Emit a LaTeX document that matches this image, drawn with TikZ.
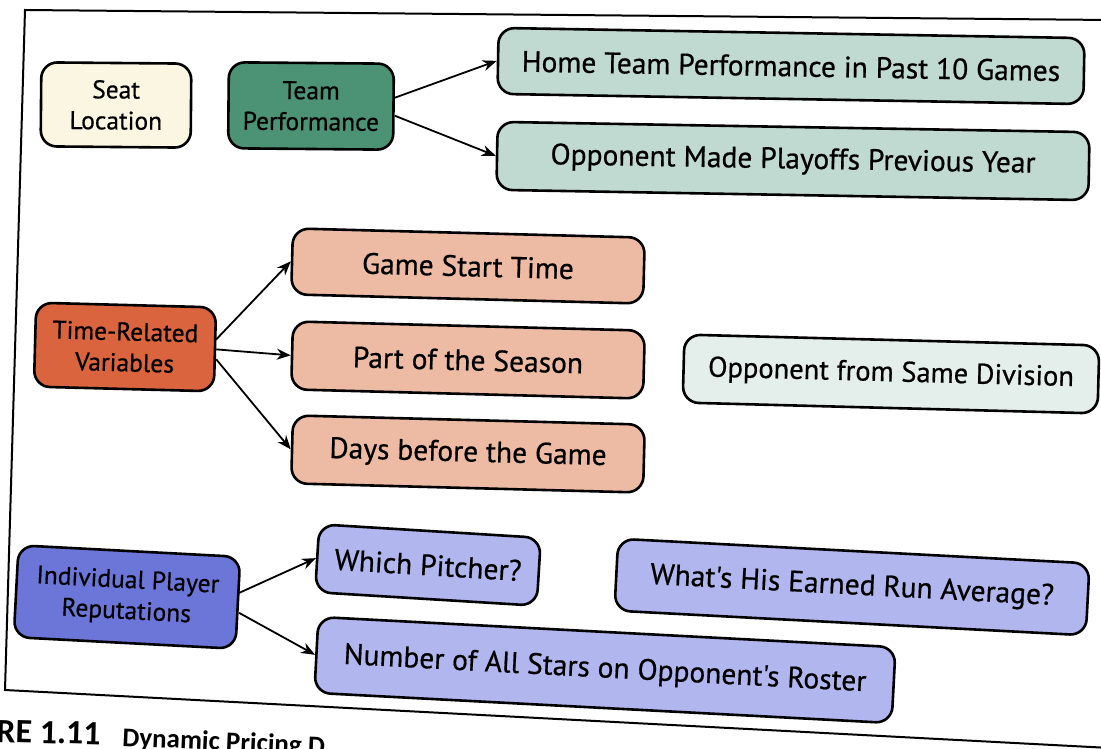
\documentclass[tikz,border=0pt]{standalone}
\usepackage{fontspec}
\setmainfont{PT Sans}
\newfontfamily\boxfont{PT Sans}[FakeBold=0.6]
\newfontfamily\capfont{Carlito}
\usetikzlibrary{arrows.meta}
\definecolor{seatc}{HTML}{FAF6E2}
\definecolor{teamc}{HTML}{4C9274}
\definecolor{teamlt}{HTML}{C0DAD2}
\definecolor{divlt}{HTML}{E4EFEB}
\definecolor{timec}{HTML}{D9643D}
\definecolor{timelt}{HTML}{EDBBA3}
\definecolor{playc}{HTML}{6C76D8}
\definecolor{playlt}{HTML}{B1B6EE}
\begin{document}
\begin{tikzpicture}[x=1pt,y=-1pt,
  box/.style={draw=black, line width=2.6pt, rounded corners=16pt, align=center,
    inner sep=0pt, font=\boxfont\fontsize{29.5}{32}\selectfont},
  twoline/.style={font=\boxfont\fontsize{25.5}{31}\selectfont},
  link/.style={-{Stealth[length=14pt,width=11pt]}, line width=1.8pt}]
\useasboundingbox (0,0) rectangle (1101,749);
\fill[white] (0,0) rectangle (1101,749);
% figure frame
\draw[line width=2pt] (1110,20) -- (25,10) -- (5,690) -- (1110,748);

% top row
\node[box, twoline, fill=seatc, minimum width=150, minimum height=84, rotate=-0.5] (seat) at (116,105) {Seat\\Location};
\node[box, twoline, fill=teamc, minimum width=165, minimum height=86, rotate=-0.5] (team) at (311,106) {Team\\Performance};
\node[box, fill=teamlt, minimum width=586, minimum height=66, rotate=-1] (home) at (791,66) {Home Team Performance in Past 10 Games};
\node[box, fill=teamlt, minimum width=592, minimum height=68, rotate=-1] (opp) at (793,161) {Opponent Made Playoffs Previous Year};

% time-related group
\node[box, twoline, fill=timec, minimum width=180, minimum height=84, rotate=-1.5] (time) at (125,347) {Time-Related\\Variables};
\node[box, fill=timelt, minimum width=352, minimum height=66, rotate=-1.5] (game) at (468,266) {Game Start Time};
\node[box, fill=timelt, minimum width=352, minimum height=68, rotate=-1.5] (part) at (468,360) {Part of the Season};
\node[box, fill=timelt, minimum width=352, minimum height=68, rotate=-1.5] (days) at (468,454) {Days before the Game};
\node[box, fill=divlt, minimum width=415, minimum height=68, rotate=-1.5, font=\boxfont\fontsize{28.5}{32}\selectfont] (div) at (891,374) {Opponent from Same Division};

% player group
\node[box, twoline, fill=playc, minimum width=222, minimum height=92, rotate=-3] (indiv) at (127,597) {Individual Player\\Reputations};
\node[box, fill=playlt, minimum width=222, minimum height=68, rotate=-3.5] (pitch) at (428,565) {Which Pitcher?};
\node[box, fill=playlt, minimum width=472, minimum height=72, rotate=-3] (era) at (852,587) {What's His Earned Run Average?};
\node[box, fill=playlt, minimum width=578, minimum height=76, rotate=-3] (stars) at (605,670) {Number of All Stars on Opponent's Roster};

% connectors
\draw[link] ([yshift=9pt]team.east) -- (home.west);
\draw[link] ([yshift=-9pt]team.east) -- (opp.west);
\draw[link] ([yshift=10pt]time.east) -- (game.west);
\draw[link] (time.east) -- (part.west);
\draw[link] ([yshift=-10pt]time.east) -- (days.west);
\draw[link] ([yshift=10pt]indiv.east) -- (pitch.west);
\draw[link] ([yshift=-10pt]indiv.east) -- (stars.west);

% caption at the foot of the figure
\node[anchor=base west, inner sep=0pt, font=\capfont\bfseries\fontsize{34}{36}\selectfont, rotate=-1.5] (fig) at (-4,742) {RE 1.11};
\node[anchor=base west, inner sep=0pt, font=\capfont\bfseries\fontsize{27}{30}\selectfont, rotate=-2.5] (cap) at (122,746) {Dynamic Pricing D};
\end{tikzpicture}
\end{document}
